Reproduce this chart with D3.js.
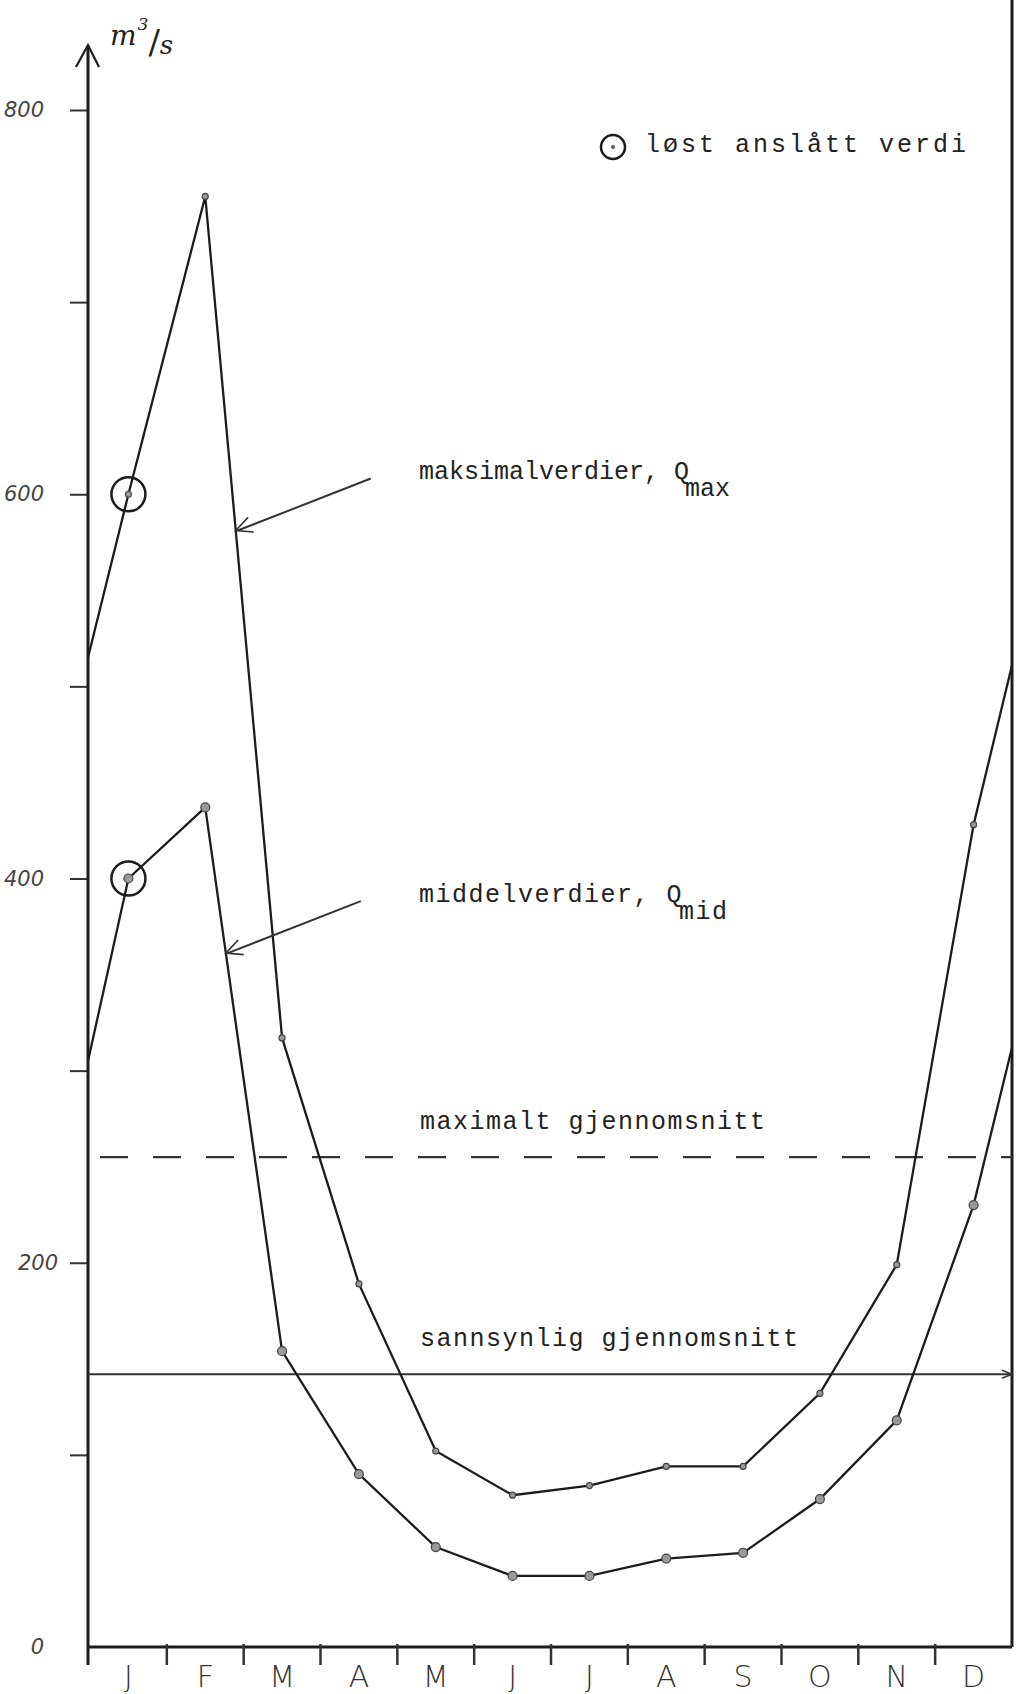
<!DOCTYPE html>
<html><head><meta charset="utf-8">
<script src="https://cdn.jsdelivr.net/npm/d3@7"></script>
<style>html,body{margin:0;padding:0;background:#fff;} svg{display:block}</style>
</head><body><svg id="c" width="1022" height="1694"></svg>
<script>
// ---------- data ----------
const months = ["J","F","M","A","M","J","J","A","S","O","N","D"];
const qMax = [600,755,317,189,102,79,84,94,94,132,199,428];
const qMid = [400,437,154,90,52,37,37,46,49,77,118,230];
const qMaxEdges = [515,511];   // drawn at start of Jan / end of Dec
const qMidEdges = [305,312];
const estimatedIdx = [0];      // "løst anslått verdi" (circled)
const yTicks = [0,100,200,300,400,500,600,700,800];
const yTickLabels = ["0","","200","","400","","600","","800"];
const refValues = [255,142];
const refLabels = ["maximalt gjennomsnitt","sannsynlig gjennomsnitt"];
const seriesLabels = ["maksimalverdier, Q","middelverdier, Q"];
const seriesSubs = ["max","mid"];
const legendLabel = "løst anslått verdi";
const unitLabel = "m³/s";

// ---------- layout ----------
const svg = d3.select("#c");
const X0 = 90, X1 = 1012, AX = 88;
const x = d3.scaleBand().domain(d3.range(12)).range([X0, X1]);
const y = d3.scaleLinear().domain([0,800]).range([1647,110]);
const ink = "#1c1c1c";
const mono = "'Liberation Mono', 'DejaVu Sans Mono', monospace";

// right border
svg.append("line").attr("x1",X1).attr("x2",X1).attr("y1",0).attr("y2",y(0))
  .attr("stroke",ink).attr("stroke-width",3);

// y axis
const yAx = svg.append("g").attr("transform",`translate(${AX},0)`)
  .call(d3.axisLeft(y).tickValues(yTicks).tickSize(18).tickPadding(26)
        .tickFormat((d,i)=>yTickLabels[i]));
yAx.select(".domain").remove();
yAx.selectAll(".tick line").attr("stroke","#333").attr("stroke-width",2)
   .filter(d=>d===0).remove();
yAx.selectAll(".tick text").attr("font-family","'DejaVu Sans', sans-serif")
   .attr("font-style","italic").attr("font-size",21).attr("fill","#444")
   .attr("font-weight",300);
yAx.selectAll(".tick").filter(d=>d===200).select("text").attr("x",-30);
svg.append("line").attr("x1",AX).attr("x2",AX).attr("y1",46).attr("y2",y(0)+18)
  .attr("stroke",ink).attr("stroke-width",3);
svg.append("polyline").attr("points",`${AX-12},67 ${AX},45 ${AX+11},67`)
  .attr("fill","none").attr("stroke",ink).attr("stroke-width",2.2);

// unit label (single text element, split into glyph tspans)
const u = svg.append("text").attr("x",110).attr("y",45).attr("fill","#222")
  .attr("font-family","'DejaVu Serif', serif").attr("font-style","italic");
const uChars = Array.from(unitLabel);
u.append("tspan").attr("font-size",28).text(uChars[0]);
u.append("tspan").attr("font-size",17).attr("dy",-15).attr("dx",1).text("3");
u.append("tspan").attr("font-size",34).attr("font-style","normal").attr("font-weight",300)
  .attr("dy",24).attr("dx",0).text(uChars[2]);
u.append("tspan").attr("font-size",26).attr("dy",0).attr("dx",0).text(uChars[3]);

// x axis
svg.append("line").attr("x1",AX).attr("x2",X1).attr("y1",y(0)).attr("y2",y(0))
  .attr("stroke",ink).attr("stroke-width",3);
const xAx = svg.append("g").attr("transform",`translate(0,${y(0)})`)
  .call(d3.axisBottom(x).tickSize(0).tickPadding(19).tickFormat(i=>months[i]));
xAx.select(".domain").remove();
xAx.selectAll(".tick text").attr("font-family","'DejaVu Sans', sans-serif")
  .attr("font-size",30).attr("font-weight",300).attr("fill","#333");
svg.append("g").selectAll("line").data(d3.range(1,12)).join("line")
  .attr("x1",i=>x(i)).attr("x2",i=>x(i)).attr("y1",y(0)-3).attr("y2",y(0)+18)
  .attr("stroke","#333").attr("stroke-width",2.5);

// reference lines
svg.append("line").attr("x1",100).attr("x2",X1).attr("y1",y(refValues[0])).attr("y2",y(refValues[0]))
  .attr("stroke","#333").attr("stroke-width",2.2).attr("stroke-dasharray","28 25");
svg.append("line").attr("x1",AX).attr("x2",X1).attr("y1",y(refValues[1])).attr("y2",y(refValues[1]))
  .attr("stroke","#333").attr("stroke-width",2);
svg.append("polyline").attr("points",`${X1-10},${y(refValues[1])-4} ${X1},${y(refValues[1])} ${X1-10},${y(refValues[1])+4}`)
  .attr("fill","none").attr("stroke","#333").attr("stroke-width",1.5);
refLabels.forEach((t,i)=>{
  svg.append("text").attr("x",420).attr("y",y(refValues[i])-28)
    .attr("font-family",mono).attr("font-size",25).attr("letter-spacing",1.5)
    .attr("fill","#222").text(t);
});

// series
function pts(vals, edges){
  const p = [[X0-2, y(edges[0])]];
  vals.forEach((v,i)=>p.push([x(i)+x.bandwidth()/2, y(v)]));
  p.push([X1, y(edges[1])]);
  return p;
}
const line = d3.line();
const seriesData = [[qMax,qMaxEdges,3],[qMid,qMidEdges,4.5]];
seriesData.forEach(([vals,edges,r])=>{
  svg.append("path").attr("d",line(pts(vals,edges))).attr("fill","none")
    .attr("stroke",ink).attr("stroke-width",2.3).attr("stroke-linejoin","miter");
  svg.append("g").selectAll("circle").data(vals).join("circle")
    .attr("cx",(d,i)=>x(i)+x.bandwidth()/2).attr("cy",d=>y(d)).attr("r",r)
    .attr("fill","#999").attr("stroke","#444").attr("stroke-width",1.2);
  svg.append("g").selectAll("circle").data(estimatedIdx).join("circle")
    .attr("cx",i=>x(i)+x.bandwidth()/2).attr("cy",i=>y(vals[i])).attr("r",17)
    .attr("fill","none").attr("stroke",ink).attr("stroke-width",2.5);
});

// series labels + arrows
const labelY = [479, 902];
const labelSpacing = [0, 1.5];
const arrowT = [0.397, 0.268];
seriesData.forEach(([vals],k)=>{
  const t = svg.append("text").attr("x",419).attr("y",labelY[k])
    .attr("font-family",mono).attr("font-size",25).attr("letter-spacing",labelSpacing[k]).attr("fill","#222");
  t.append("tspan").text(seriesLabels[k]);
  t.append("tspan").attr("dx",-4).attr("dy",17).text(seriesSubs[k]);
  const fx = x(1)+x.bandwidth()/2, mx = x(2)+x.bandwidth()/2;
  const tx = fx + arrowT[k]*(mx-fx), ty = y(vals[1]) + arrowT[k]*(y(vals[2])-y(vals[1]));
  const sx = tx + 135, sy = ty - 52;
  svg.append("line").attr("x1",sx).attr("y1",sy).attr("x2",tx+2).attr("y2",ty)
    .attr("stroke","#333").attr("stroke-width",2);
  const ang = Math.atan2(sy-ty, sx-tx);
  const L = 18, a = 0.45;
  svg.append("polyline").attr("points",
    `${tx+L*Math.cos(ang-a)},${ty+L*Math.sin(ang-a)} ${tx},${ty} ${tx+L*Math.cos(ang+a)},${ty+L*Math.sin(ang+a)}`)
    .attr("fill","none").attr("stroke","#333").attr("stroke-width",1.6);
});

// legend
svg.append("circle").attr("cx",613).attr("cy",147).attr("r",12)
  .attr("fill","none").attr("stroke",ink).attr("stroke-width",2.5);
svg.append("circle").attr("cx",613).attr("cy",147).attr("r",2).attr("fill","#555");
svg.append("text").attr("x",645).attr("y",152)
  .attr("font-family",mono).attr("font-size",25).attr("letter-spacing",3)
  .attr("fill","#222").text(legendLabel);
</script>
</body></html>
